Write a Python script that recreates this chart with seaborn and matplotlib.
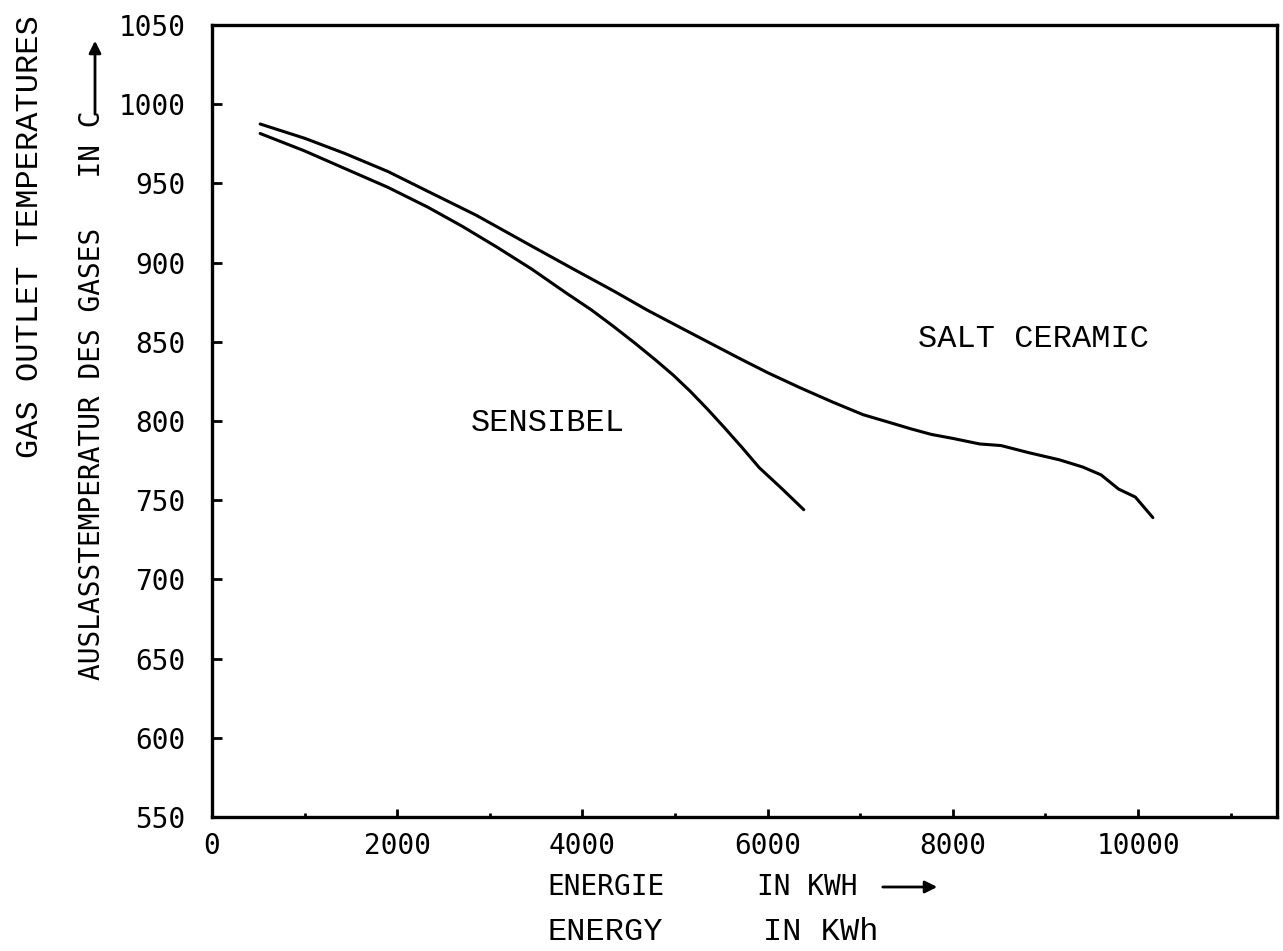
import matplotlib
matplotlib.use("Agg")
import matplotlib.pyplot as plt
from matplotlib.patches import FancyArrowPatch
import seaborn as sns
import pandas as pd

# Discharge curves: energy delivered (kWh) vs gas outlet temperature (C)
energy_salt = [520, 1000, 1430, 1900, 2330, 2850, 3450, 3900, 4340, 4700,
               5090, 5680, 6000, 6350, 6700, 7030, 7320, 7550, 7770, 8000,
               8290, 8520, 8820, 9150, 9400, 9600, 9790, 9970, 10160]
temp_salt = [987.5, 978.5, 969, 957.5, 945, 930, 910.5, 896, 882, 870,
             858, 840, 830.5, 821, 812, 804, 799, 795, 791.5, 789,
             785.5, 784.5, 780, 775.5, 771, 766, 757, 752, 739]

energy_sens = [520, 1000, 1430, 1900, 2330, 2700, 3070, 3450, 3820, 4100, 4340,
               4570, 4790, 4980, 5160, 5350, 5530, 5720, 5910, 6150, 6390]
temp_sens = [981.5, 970.5, 959.5, 947.5, 935, 923, 910, 896, 881, 870, 859.5,
             849, 838.5, 829, 819, 807.5, 796, 783.5, 770.5, 757.5, 744]

x_major = [0, 2000, 4000, 6000, 8000, 10000]
x_minor = [1000, 3000, 5000, 7000, 9000, 11000]
y_major = [550, 600, 650, 700, 750, 800, 850, 900, 950, 1000, 1050]

df = pd.concat([
    pd.DataFrame({"energy": energy_salt, "temp": temp_salt, "storage": "SALT CERAMIC"}),
    pd.DataFrame({"energy": energy_sens, "temp": temp_sens, "storage": "SENSIBEL"}),
])

sns.set_style("ticks", {"text.color": "black", "xtick.color": "black",
                        "ytick.color": "black", "axes.edgecolor": "black"})
PLOT_FONT = ["DejaVu Sans Mono", "DejaVu Sans"]
TYPE_FONT = ["Liberation Mono", "DejaVu Sans Mono"]

W, H = 1283, 951
fig = plt.figure(figsize=(W / 100, H / 100), dpi=100)
ax = fig.add_axes([212 / W, 1 - 817 / H, (1277 - 212) / W, (817 - 25) / H])

sns.lineplot(data=df, x="energy", y="temp", units="storage", estimator=None,
             sort=False, color="black", linewidth=2.2, legend=False, ax=ax)

ax.set_xlim(0, 11500)
ax.set_ylim(550, 1050)
ax.set_xticks(x_major)
ax.set_xticks(x_minor, minor=True)
ax.set_yticks(y_major)
ax.set_xticklabels([str(v) for v in x_major], family=PLOT_FONT, fontsize=20)
ax.set_yticklabels([str(v) for v in y_major], family=PLOT_FONT, fontsize=20)
ax.tick_params(axis="x", which="major", direction="in", length=6, width=2, pad=11)
ax.tick_params(axis="x", which="minor", direction="in", length=3, width=2)
ax.tick_params(axis="y", which="major", direction="in", length=7, width=2, pad=19)
for s in ax.spines.values():
    s.set_linewidth(2.4)
    s.set_color("black")
ax.set_xlabel("")
ax.set_ylabel("")

# Curve labels
ax.text(7620, 852, "SALT CERAMIC", family=TYPE_FONT, fontsize=23, va="center", ha="left")
ax.text(2790, 799, "SENSIBEL", family=TYPE_FONT, fontsize=23, va="center", ha="left")


def fx(px):
    return px / W


def fy(py):
    return 1 - py / H


# Y axis titles (English and German)
fig.text(fx(30), fy(15), "GAS OUTLET TEMPERATURES", family=TYPE_FONT, fontsize=23,
         rotation=90, ha="center", va="top")
fig.text(fx(92), fy(110), "AUSLASSTEMPERATUR DES GASES   IN C", family=PLOT_FONT,
         fontsize=20, rotation=90, ha="center", va="top")
fig.add_artist(FancyArrowPatch(
    (fx(95), fy(117)), (fx(95), fy(38)), transform=fig.transFigure,
    arrowstyle="-|>", mutation_scale=18, color="black", linewidth=2))

# X axis titles (German and English)
fig.text(fx(547), fy(887), "ENERGIE", family=PLOT_FONT, fontsize=20, ha="left", va="center")
fig.text(fx(757), fy(887), "IN KWH", family=PLOT_FONT, fontsize=20, ha="left", va="center")
fig.add_artist(FancyArrowPatch(
    (fx(880), fy(887)), (fx(940), fy(887)), transform=fig.transFigure,
    arrowstyle="-|>", mutation_scale=18, color="black", linewidth=2))
fig.text(fx(548), fy(932), "ENERGY", family=TYPE_FONT, fontsize=23, ha="left", va="center")
fig.text(fx(763), fy(932), "IN KWh", family=TYPE_FONT, fontsize=23, ha="left", va="center")

fig.savefig("out.png", dpi=100)
